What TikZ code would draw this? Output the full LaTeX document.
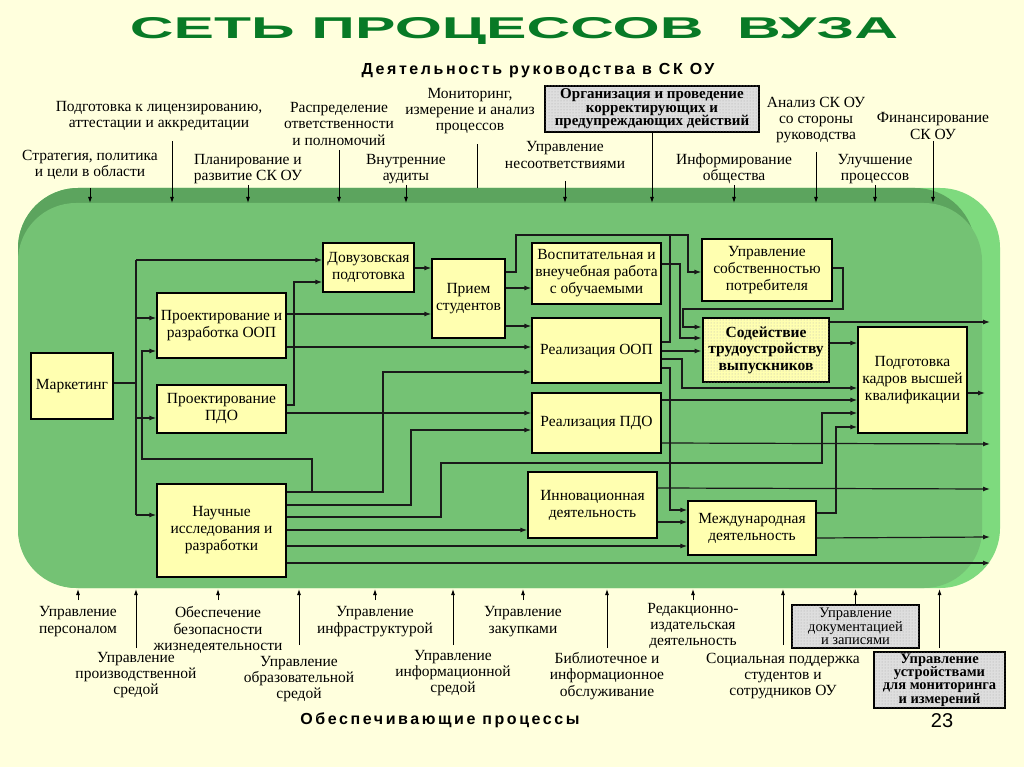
\documentclass[tikz,border=0pt]{standalone}
\usepackage{graphicx}
\usepackage{fontspec}
\setmainfont{Liberation Serif}
\newfontfamily\sansf{Liberation Sans}
\newfontfamily\spacedf[LetterSpace=16]{Liberation Sans}
\usetikzlibrary{arrows.meta,patterns}
\definecolor{bgc}{RGB}{255,255,221}
\definecolor{gmain}{RGB}{116,194,116}
\definecolor{gdark}{RGB}{92,164,94}
\definecolor{glight}{RGB}{126,218,126}
\definecolor{boxc}{RGB}{255,255,176}
\definecolor{titlec}{RGB}{8,122,38}
\definecolor{grayb}{RGB}{222,222,222}
\tikzset{
  box/.style={draw=black, line width=1.3pt, fill=boxc, align=center, inner sep=1pt,
    font=\fontsize{15.5}{17}\selectfont},
  boldbox/.style={box, line width=2.8pt, font=\bfseries\fontsize{15.5}{16.5}\selectfont,
    postaction={pattern=dots, pattern color=black!30}},
  graybox/.style={draw=black, line width=2.6pt, fill=grayb, align=center, inner sep=0pt,
    postaction={pattern=dots, pattern color=black!35}},
  lbl/.style={align=center, inner sep=0pt, font=\fontsize{15.5}{16.2}\selectfont},
  ln/.style={line width=1.2pt, draw=black!90},
  arr/.style={ln, -{Latex[length=7pt,width=5pt]}},
  tarr/.style={line width=0.9pt, -{Latex[length=6pt,width=4pt]}},
  sub/.style={inner sep=0pt, anchor=base, font=\spacedf\bfseries\fontsize{16}{16}\selectfont}
}
\begin{document}
\begin{tikzpicture}[x=1pt,y=-1pt]
\fill[bgc] (0,0) rectangle (1024,767);
\useasboundingbox (0,0) rectangle (1024,767);
% green field
\fill[glight, rounded corners=60pt] (18,188) rectangle (1000,588);
\fill[gdark, rounded corners=60pt] (18,188) rectangle (975,560);
\fill[gmain, rounded corners=58pt] (18,203) rectangle (982,588);
% title
\node[anchor=base, text=titlec, inner sep=0pt] (title) at (514,39)
  {\resizebox{768pt}{21pt}{\sansf\bfseries СЕТЬ ПРОЦЕССОВ\ \ ВУЗА}};
\node[sub] (subtop) at (538,75) {Деятельность руководства в СК ОУ};
\node[sub] (subbot) at (440,724) {Обеспечивающие процессы};
\node[anchor=base, inner sep=0pt, font=\sansf\fontsize{20}{20}\selectfont] (pg) at (942,727) {23};
% boxes
\node[box, minimum width=82pt, minimum height=66pt] (mkt) at (72,386) {Маркетинг};
\node[box, minimum width=129pt, minimum height=65pt] (ppoop) at (221.5,325.5) {Проектирование и\\разработка ООП};
\node[box, minimum width=129pt, minimum height=48pt] (pppdo) at (221.5,409) {Проектирование\\ПДО};
\node[box, minimum width=129pt, minimum height=93pt] (nauch) at (221.5,530.5) {Научные\\исследования и\\разработки};
\node[box, minimum width=91pt, minimum height=49pt] (dovuz) at (368.5,267.5) {Довузовская\\подготовка};
\node[box, minimum width=73pt, minimum height=79pt] (priem) at (468.5,298.5) {Прием\\студентов};
\node[box, minimum width=129pt, minimum height=61pt] (vosp) at (596.5,273.5) {Воспитательная и\\внеучебная работа\\с обучаемыми};
\node[box, minimum width=129pt, minimum height=65pt] (realoop) at (596.5,350.5) {Реализация ООП};
\node[box, minimum width=129pt, minimum height=60pt] (realpdo) at (596.5,423) {Реализация ПДО};
\node[box, minimum width=129pt, minimum height=66pt] (innov) at (592.5,505) {Инновационная\\деятельность};
\node[box, minimum width=128pt, minimum height=54pt] (mezhd) at (752,528) {Международная\\деятельность};
\node[box, minimum width=130pt, minimum height=62pt] (upsob) at (767,270) {Управление\\собственностью\\потребителя};
\node[boldbox, minimum width=126pt, minimum height=64pt] (sodeist) at (766,350) {Содействие\\трудоустройству\\выпускников};
\node[box, minimum width=109pt, minimum height=106pt] (podg) at (912.5,380) {Подготовка\\кадров высшей\\квалификации};
% connectors
\draw[ln] (mkt.east |- 0,383) -- (136,383);
\draw[ln] (136,260) -- (136,515);
\draw[arr] (136,260) -- (dovuz.west |- 0,260);
\draw[arr] (136,318) -- (ppoop.west |- 0,318);
\draw[arr] (136,418) -- (pppdo.west |- 0,418);
\draw[arr] (136,515) -- (nauch.west |- 0,515);
\draw[arr] (nauch.east |- 0,492) -- (383,492) -- (383,372) -- (realoop.west |- 0,372);
\draw[arr] (312,492) -- (312,459) -- (142,459) -- (142,351) -- (ppoop.west |- 0,351);
\draw[arr] (nauch.east |- 0,505) -- (411,505) -- (411,430) -- (realpdo.west |- 0,430);
\draw[arr] (nauch.east |- 0,517) -- (441,517) -- (441,463) -- (822,463) -- (822,413) -- (podg.west |- 0,413);
\draw[arr] (nauch.east |- 0,530) -- (innov.west |- 0,530);
\draw[arr] (nauch.east |- 0,546) -- (mezhd.west |- 0,546);
\draw[arr] (nauch.east |- 0,563) -- (990,563);
\draw[arr] (ppoop.east |- 0,314) -- (priem.west |- 0,314);
\draw[arr] (ppoop.east |- 0,347) -- (realoop.west |- 0,347);
\draw[arr] (pppdo.east |- 0,405) -- (294,405) -- (294,282) -- (dovuz.west |- 0,282);
\draw[arr] (pppdo.east |- 0,413) -- (realpdo.west |- 0,413);
\draw[arr] (dovuz.east |- 0,268) -- (priem.west |- 0,268);
\draw[arr] (priem.east |- 0,272) -- (516,272) -- (516,235) -- (688,235) -- (688,272) -- (upsob.west |- 0,272);
\draw[arr] (priem.east |- 0,288) -- (vosp.west |- 0,288);
\draw[arr] (priem.east |- 0,326) -- (realoop.west |- 0,326);
\draw[ln] (realoop.east |- 0,342) -- (670,342) -- (670,235);
\draw[arr] (realoop.east |- 0,351) -- (sodeist.west |- 0,351);
\draw[arr] (realoop.east |- 0,359) -- (682,359) -- (682,388) -- (podg.west |- 0,388);
\draw[arr] (realoop.east |- 0,368) -- (670,368) -- (670,510) -- (mezhd.west |- 0,510);
\draw[arr] (vosp.east |- 0,264) -- (680,264) -- (680,338) -- (sodeist.west |- 0,338);
\draw[arr] (upsob.east |- 0,268) -- (843,268) -- (843,309) -- (683,309) -- (683,327) -- (sodeist.west |- 0,327);
\draw[arr] (sodeist.east |- 0,322) -- (990,322);
\draw[arr] (sodeist.east |- 0,343) -- (podg.west |- 0,343);
\draw[arr] (realpdo.east |- 0,400) -- (podg.west |- 0,400);
\draw[arr] (realpdo.east |- 0,443) -- (990,444);
\draw[arr] (innov.east |- 0,488) -- (990,489);
\draw[arr] (innov.east |- 0,522) -- (mezhd.west |- 0,522);
\draw[arr] (mezhd.east |- 0,513) -- (836,513) -- (836,427) -- (podg.west |- 0,427);
\draw[arr] (mezhd.east |- 0,538) -- (990,537);
\draw[arr] (podg.east |- 0,393) -- (985,393);
% top labels
\node[lbl] (strat) at (90,165) {Стратегия, политика\\и цели в области};
\node[lbl] (podlic) at (159,116) {Подготовка к лицензированию,\\аттестации и аккредитации};
\node[lbl] (plan) at (248,169) {Планирование и\\развитие СК ОУ};
\node[lbl] (raspr) at (339,124) {Распределение\\ответственности\\и полномочий};
\node[lbl] (vnutr) at (406,169) {Внутренние\\аудиты};
\node[lbl] (monit) at (470,111) {Мониторинг,\\измерение и анализ\\процессов};
\node[graybox, minimum width=214pt, minimum height=46pt, font=\bfseries\fontsize{15}{13.6}\selectfont] (org) at (652,109) {Организация и проведение\\корректирующих и\\предупреждающих действий};
\node[lbl] (upnes) at (565,155) {Управление\\несоответствиями};
\node[lbl] (inform) at (734,169) {Информирование\\общества};
\node[lbl] (anal) at (816,120) {Анализ СК ОУ\\со стороны\\руководства};
\node[lbl] (uluch) at (875,169) {Улучшение\\процессов};
\node[lbl] (finans) at (933,126) {Финансирование\\СК ОУ};
\draw[tarr] (strat.south |- 0,188) -- (strat.south |- 0,203);
\draw[tarr] (podlic.south -| 172,0) ++(0,10) -- (172,203);
\draw[tarr] (plan.south |- 0,185) -- (plan.south |- 0,203);
\draw[tarr] (raspr.south |- 0,150) -- (raspr.south |- 0,203);
\draw[tarr] (vnutr.south |- 0,185) -- (vnutr.south |- 0,203);
\draw[line width=0.9pt] (monit.south -| 477,0) ++(0,10) -- (477,188);
\draw[tarr] (org.south) -- (org.south |- 0,203);
\draw[tarr] (upnes.south |- 0,181) -- (upnes.south |- 0,203);
\draw[tarr] (inform.south |- 0,185) -- (inform.south |- 0,203);
\draw[tarr] (anal.south |- 0,152) -- (anal.south |- 0,203);
\draw[tarr] (uluch.south |- 0,185) -- (uluch.south |- 0,203);
\draw[tarr] (finans.south |- 0,141) -- (finans.south |- 0,203);
% bottom labels
\node[lbl] (upers) at (78,621.5) {Управление\\персоналом};
\node[lbl] (uproizv) at (136,675) {Управление\\производственной\\средой};
\node[lbl] (obesp) at (218,630) {Обеспечение\\безопасности\\жизнедеятельности};
\node[lbl] (uobraz) at (299,679) {Управление\\образовательной\\средой};
\node[lbl] (uinfra) at (375,621.5) {Управление\\инфраструктурой};
\node[lbl] (uinform) at (453,673) {Управление\\информационной\\средой};
\node[lbl] (uzak) at (523,621.5) {Управление\\закупками};
\node[lbl] (bibl) at (607,676) {Библиотечное и\\информационное\\обслуживание};
\node[lbl] (redak) at (693,626) {Редакционно-\\издательская\\деятельность};
\node[lbl] (social) at (783,676) {Социальная поддержка\\студентов и\\сотрудников ОУ};
\node[graybox, minimum width=127pt, minimum height=43pt, font=\fontsize{14.5}{13.2}\selectfont] (docbox) at (855.5,626.5) {Управление\\документацией\\и записями};
\node[graybox, minimum width=131pt, minimum height=56pt, font=\bfseries\fontsize{14.5}{13.2}\selectfont] (devbox) at (939.5,680) {Управление\\устройствами\\для мониторинга\\и измерений};
\draw[tarr] (upers.north |- 0,600) -- (upers.north |- 0,589);
\draw[tarr] (uproizv.north |- 0,648) -- (uproizv.north |- 0,589);
\draw[tarr] (obesp.north |- 0,600) -- (obesp.north |- 0,589);
\draw[tarr] (uobraz.north |- 0,645) -- (uobraz.north |- 0,589);
\draw[tarr] (uinfra.north |- 0,600) -- (uinfra.north |- 0,589);
\draw[tarr] (uinform.north |- 0,645) -- (uinform.north |- 0,589);
\draw[tarr] (uzak.north |- 0,600) -- (uzak.north |- 0,589);
\draw[tarr] (bibl.north |- 0,648) -- (bibl.north |- 0,589);
\draw[tarr] (redak.north |- 0,600) -- (redak.north |- 0,589);
\draw[tarr] (social.north |- 0,645) -- (social.north |- 0,589);
\draw[tarr] (docbox.north) -- (docbox.north |- 0,589);
\draw[tarr] (devbox.north |- 0,648) -- (devbox.north |- 0,589);
\end{tikzpicture}
\end{document}
